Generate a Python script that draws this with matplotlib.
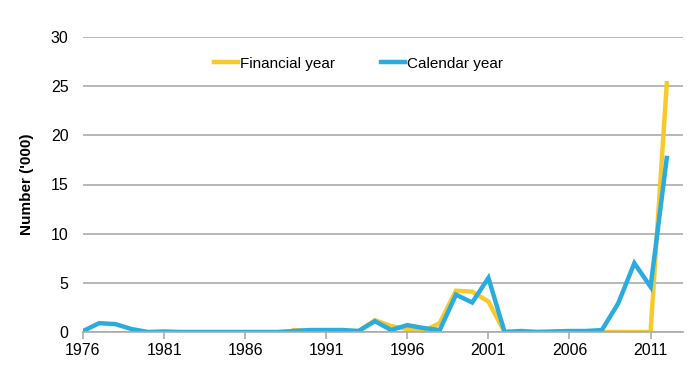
import matplotlib
matplotlib.use("Agg")
import matplotlib.pyplot as plt

years = list(range(1976, 2013))
calendar = [0.1, 0.9, 0.8, 0.3, 0.0, 0.05, 0.0, 0.0, 0.0, 0.0, 0.0, 0.0, 0.0,
            0.1, 0.2, 0.2, 0.2, 0.1, 1.1, 0.2, 0.7, 0.4, 0.2, 3.8, 3.0, 5.5,
            0.0, 0.1, 0.0, 0.05, 0.1, 0.1, 0.2, 2.9, 7.0, 4.6, 17.7]
fin_years = list(range(1989, 2013))
financial = [0.2, 0.1, 0.1, 0.1, 0.1, 1.2, 0.6, 0.3, 0.1, 0.9, 4.2, 4.1, 3.1,
             0.0, 0.0, 0.0, 0.0, 0.0, 0.0, 0.0, 0.0, 0.0, 0.0, 25.3]
xticks = [1976, 1981, 1986, 1991, 1996, 2001, 2006, 2011]
yticks = [0, 5, 10, 15, 20, 25, 30]

plt.rcParams['font.family'] = ['Liberation Sans', 'DejaVu Sans']

fig = plt.figure(figsize=(7, 3.75), dpi=100)
ax = fig.add_axes([83/700, 1 - 332/375, 600/700, 295/375])

ax.plot(fin_years, financial, color='#F7C92B', lw=3.2, label='Financial year', solid_joinstyle='miter')
ax.plot(years, calendar, color='#2AACDF', lw=3.2, label='Calendar year', solid_joinstyle='miter')

ax.set_xlim(1976, 2013)
ax.set_ylim(0, 30)
ax.set_xticks(xticks)
ax.set_yticks(yticks)
ax.grid(axis='y', color='#ABABAB', lw=1.2)
ax.set_axisbelow(True)
for s in ['top', 'right', 'left']:
    ax.spines[s].set_visible(False)
ax.spines['bottom'].set_color('#ABABAB')
ax.spines['bottom'].set_linewidth(1.2)
ax.tick_params(axis='y', length=0, labelsize=11.5, pad=10.5)
ax.tick_params(axis='x', length=5, color='#ABABAB', width=1.2, labelsize=11.5, pad=3)
ax.set_ylabel("Number ('000)", fontsize=11, fontweight='bold', labelpad=12)

ax.legend(loc='center', bbox_to_anchor=(0.459, 0.91), ncol=2, frameon=False,
          fontsize=11, handlelength=1.6, handletextpad=0.1, columnspacing=3.0)

fig.savefig('out.png', dpi=100)
